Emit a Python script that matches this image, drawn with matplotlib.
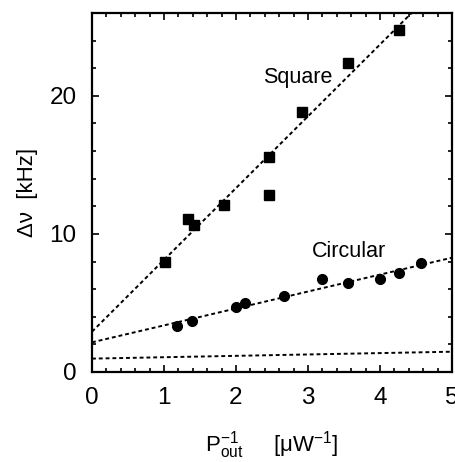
import numpy as np
import matplotlib
matplotlib.use('Agg')
import matplotlib.pyplot as plt
from matplotlib.ticker import MultipleLocator

plt.rcParams['font.family'] = ['Liberation Sans', 'DejaVu Sans']
plt.rcParams['mathtext.fontset'] = 'custom'
plt.rcParams['mathtext.rm'] = 'Liberation Sans'
plt.rcParams['mathtext.it'] = 'Liberation Sans'
plt.rcParams['mathtext.default'] = 'regular'

# square resonator
sq_x = [1.02, 1.33, 1.42, 1.83, 2.46, 2.46, 2.91, 3.55, 4.26]
sq_y = [7.95, 11.1, 10.65, 12.1, 15.55, 12.8, 18.85, 22.35, 24.8]
# circular resonator
ci_x = [1.185, 1.39, 2.0, 2.13, 2.66, 3.19, 3.55, 4.0, 4.26, 4.57]
ci_y = [3.33, 3.72, 4.69, 4.98, 5.51, 6.71, 6.45, 6.77, 7.2, 7.9]

# linear fits (intercept, slope)
sq_fit = (2.92, 5.2)
ci_fit = (2.15, 1.226)
base_fit = (0.97, 0.1)

fig = plt.figure(figsize=(4.56, 4.62), dpi=100)
ax = fig.add_axes([92/456, 90/462, 360/456, 359/462])

xx = np.array([0, 5])
dash = (0, (2.0, 1.5))
for b, m in (sq_fit, ci_fit, base_fit):
    ax.plot(xx, b + m*xx, color='k', lw=1.4, ls=dash)

ax.plot(sq_x, sq_y, 's', color='k', ms=7)
ax.plot(ci_x, ci_y, 'o', color='k', ms=7)

ax.text(2.86, 21.3, 'Square', fontsize=15.5, ha='center', va='center')
ax.text(3.57, 8.7, 'Circular', fontsize=15.5, ha='center', va='center')

ax.set_xlim(0, 5)
ax.set_ylim(0, 26)
ax.xaxis.set_major_locator(MultipleLocator(1))
ax.xaxis.set_minor_locator(MultipleLocator(0.2))
ax.yaxis.set_major_locator(MultipleLocator(10))
ax.yaxis.set_minor_locator(MultipleLocator(2))
ax.tick_params(which='both', direction='in', top=True, right=True, width=1.2)
ax.tick_params(which='major', length=5, labelsize=17.5, pad=11)
ax.tick_params(which='minor', length=3)
for s in ax.spines.values():
    s.set_linewidth(1.6)

ax.set_ylabel('Δν  [kHz]', fontsize=16, labelpad=8)
ax.set_xlabel(r'P$^{-1}_{\rm out}$     [$\mu$W$^{-1}$]', fontsize=16, labelpad=14)

fig.savefig('out.png', dpi=100)
